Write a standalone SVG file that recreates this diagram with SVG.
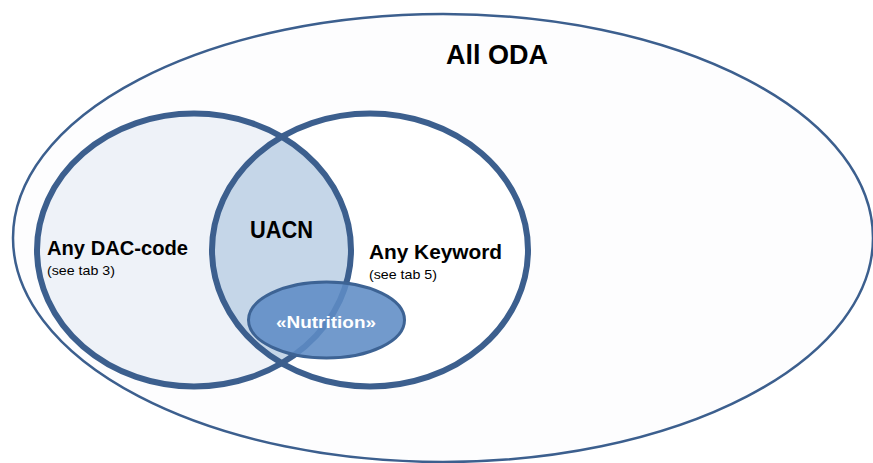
<svg xmlns="http://www.w3.org/2000/svg" width="873" height="463" viewBox="0 0 873 463">
  <style>
    .lbl { font-family: "Liberation Sans", Arial, sans-serif; font-weight: bold; fill: #000; }
    .sub { font-family: "Liberation Sans", Arial, sans-serif; font-size: 13px; fill: #000; }
    .ring { fill: none; stroke: #3c5f8e; stroke-width: 6; }
  </style>
  <defs>
    <clipPath id="clipLeft">
      <ellipse cx="194" cy="250" rx="157" ry="136.5"/>
    </clipPath>
  </defs>
  <rect width="873" height="463" fill="#ffffff"/>
  <g id="all-oda">
    <ellipse cx="443" cy="238" rx="430" ry="224" fill="#fdfdfe" stroke="#3c5f8e" stroke-width="2.5"/>
    <text class="lbl" x="446" y="63.5" font-size="27" textLength="102" lengthAdjust="spacingAndGlyphs">All ODA</text>
  </g>
  <g id="dac-code">
    <ellipse cx="194" cy="250" rx="157" ry="136.5" fill="#eef2f8"/>
  </g>
  <g id="keyword">
    <ellipse cx="370" cy="250" rx="158" ry="136.5" fill="#ffffff"/>
  </g>
  <g id="uacn">
    <ellipse cx="370" cy="250" rx="158" ry="136.5" fill="#c5d6e8" clip-path="url(#clipLeft)"/>
    <text class="lbl" x="250" y="238" font-size="24" textLength="63" lengthAdjust="spacingAndGlyphs">UACN</text>
  </g>
  <g id="rings">
    <ellipse class="ring" cx="194" cy="250" rx="157" ry="136.5"/>
    <ellipse class="ring" cx="370" cy="250" rx="158" ry="136.5"/>
  </g>
  <g id="dac-label">
    <text class="lbl" x="47" y="255" font-size="20" textLength="141" lengthAdjust="spacingAndGlyphs">Any DAC-code</text>
    <text class="sub" x="47" y="275" textLength="68" lengthAdjust="spacingAndGlyphs">(see tab 3)</text>
  </g>
  <g id="keyword-label">
    <text class="lbl" x="369" y="258.5" font-size="20" textLength="133" lengthAdjust="spacingAndGlyphs">Any Keyword</text>
    <text class="sub" x="369" y="279" textLength="68" lengthAdjust="spacingAndGlyphs">(see tab 5)</text>
  </g>
  <g id="nutrition">
    <ellipse cx="326.5" cy="320" rx="78" ry="38" fill="#5f8cc5" fill-opacity="0.88" stroke="#3d6394" stroke-width="3"/>
    <text x="276" y="327.5" font-family="Liberation Sans, Arial, sans-serif" font-weight="bold" font-size="17" fill="#ffffff" textLength="100" lengthAdjust="spacingAndGlyphs">«Nutrition»</text>
  </g>
</svg>
